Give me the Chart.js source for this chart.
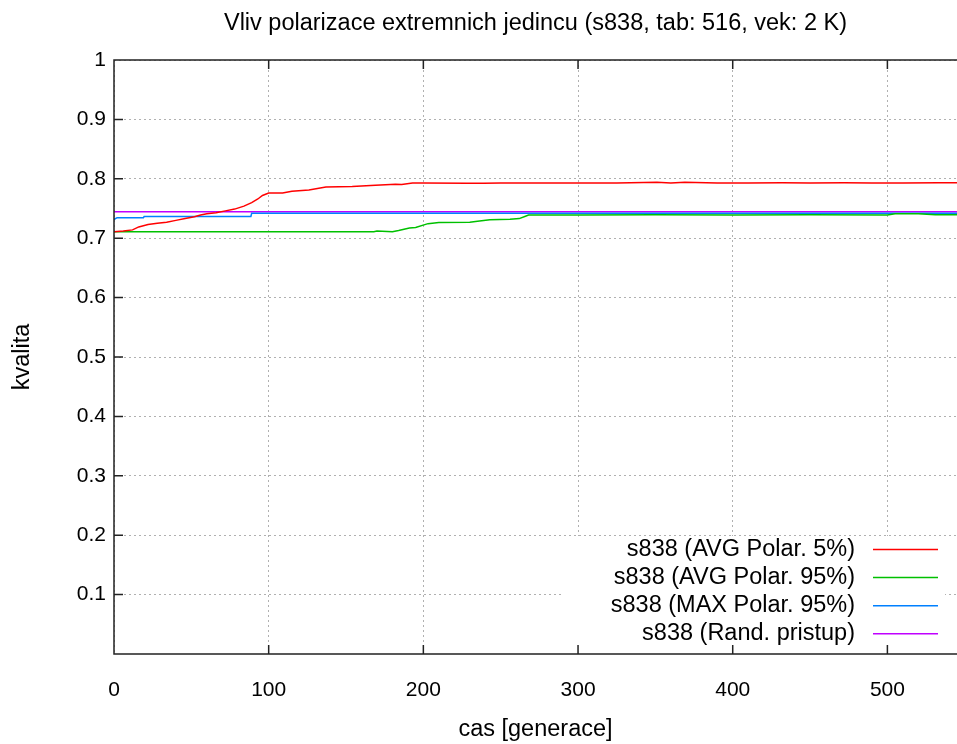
<!DOCTYPE html>
<html>
<head>
<meta charset="utf-8">
<script src="https://cdn.jsdelivr.net/npm/chart.js@4.4.1/dist/chart.umd.min.js"></script>
<style>
  html, body { margin: 0; padding: 0; background: #fff; overflow: hidden; }
  canvas { display: block; }
</style>
</head>
<body>
<canvas id="chart" width="957" height="744"></canvas>
<script>
// --- data
const chartTitle = 'Vliv polarizace extremnich jedincu (s838, tab: 516, vek: 2 K)';
const xTitle = 'cas [generace]';
const yTitle = 'kvalita';
const xTicks = [0, 100, 200, 300, 400, 500];
const yTicks = [0.1, 0.2, 0.3, 0.4, 0.5, 0.6, 0.7, 0.8, 0.9, 1];
const xMax = 545;

const seriesLabels = [
  's838 (AVG Polar. 5%)',
  's838 (AVG Polar. 95%)',
  's838 (MAX Polar. 95%)',
  's838 (Rand. pristup)'
];
const seriesColors = ['#ff0000', '#00c000', '#0080ff', '#c000ff'];

const redX = [0, 6, 12, 16, 22, 28, 34, 40, 46, 52, 56, 60, 66, 72, 78, 84, 89, 93, 96, 100, 109, 115, 126, 137, 154, 169, 182, 186, 193, 200, 228, 239, 250, 275, 300, 325, 351, 360, 369, 390, 410, 432, 450, 472, 490, 510, 533, 545];
const redY = [0.711, 0.712, 0.714, 0.719, 0.723, 0.725, 0.727, 0.730, 0.733, 0.736, 0.739, 0.741, 0.743, 0.746, 0.749, 0.754, 0.760, 0.766, 0.772, 0.776, 0.776, 0.779, 0.781, 0.786, 0.787, 0.789, 0.791, 0.7905, 0.793, 0.793, 0.7925, 0.7925, 0.793, 0.793, 0.793, 0.793, 0.794, 0.793, 0.794, 0.793, 0.793, 0.7935, 0.793, 0.7935, 0.793, 0.793, 0.7935, 0.7935];

const greenX = [0, 100, 168, 170, 180, 184, 191, 195, 203, 210, 230, 235, 243, 256, 262, 266, 268, 300, 350, 400, 450, 500, 505, 520, 531, 545];
const greenY = [0.711, 0.711, 0.711, 0.712, 0.711, 0.713, 0.717, 0.718, 0.7245, 0.7265, 0.727, 0.7285, 0.731, 0.732, 0.733, 0.737, 0.739, 0.739, 0.7395, 0.739, 0.7395, 0.739, 0.741, 0.741, 0.7395, 0.7395];

const blueX = [0, 2, 19, 19.5, 88.5, 89, 545];
const blueY = [0.7315, 0.7345, 0.7345, 0.7365, 0.7365, 0.742, 0.742];

const purpleX = [0, 545];
const purpleY = [0.7445, 0.7445];

const seriesX = [redX, greenX, blueX, purpleX];
const seriesY = [redY, greenY, blueY, purpleY];

const FONT = '"Liberation Sans", Arial, Helvetica, sans-serif';
Chart.defaults.font.family = FONT;
Chart.defaults.color = '#000';

// gnuplot style: frame with inward ticks + key in the lower right corner
const frameAndKey = {
  id: 'frameAndKey',
  afterDatasetsDraw(chart) {
    const { ctx, chartArea: a } = chart;
    ctx.save();
    ctx.fillStyle = '#fff';
    ctx.fillRect(a.right - 394, a.bottom - 118, 382, 117);
    ctx.font = '23.5px ' + FONT;
    ctx.textAlign = 'right';
    ctx.textBaseline = 'middle';
    chart.data.datasets.forEach((ds, i) => {
      const y = a.bottom - 104.5 + i * 28.1;
      ctx.fillStyle = '#000';
      ctx.fillText(ds.label, a.right - 102, y);
      ctx.strokeStyle = ds.borderColor;
      ctx.lineWidth = 1.5;
      ctx.beginPath();
      ctx.moveTo(a.right - 84, y);
      ctx.lineTo(a.right - 19, y);
      ctx.stroke();
    });
    ctx.restore();
  },
  afterDraw(chart) {
    const { ctx, chartArea: a, scales } = chart;
    ctx.save();
    ctx.strokeStyle = '#222';
    ctx.lineWidth = 1.5;
    ctx.beginPath();
    ctx.moveTo(a.right + 2, a.top);
    ctx.lineTo(a.left, a.top);
    ctx.lineTo(a.left, a.bottom);
    ctx.lineTo(a.right + 2, a.bottom);
    scales.x.ticks.forEach(t => {
      const px = scales.x.getPixelForValue(t.value);
      ctx.moveTo(px, a.bottom); ctx.lineTo(px, a.bottom - 9);
      ctx.moveTo(px, a.top); ctx.lineTo(px, a.top + 9);
    });
    scales.y.ticks.forEach(t => {
      const py = scales.y.getPixelForValue(t.value);
      ctx.moveTo(a.left, py); ctx.lineTo(a.left + 9, py);
    });
    ctx.stroke();
    ctx.restore();
  }
};

new Chart(document.getElementById('chart'), {
  type: 'line',
  data: {
    datasets: seriesLabels.map((label, i) => ({
      label: label,
      data: seriesX[i].map((x, j) => ({ x: x, y: seriesY[i][j] })),
      borderColor: seriesColors[i],
      borderWidth: 1.5,
      pointRadius: 0,
      tension: 0,
      fill: false
    }))
  },
  options: {
    responsive: false,
    animation: false,
    devicePixelRatio: 1,
    layout: { padding: 0 },
    plugins: {
      legend: { display: false },
      tooltip: { enabled: false },
      title: {
        display: true,
        text: chartTitle,
        fullSize: false,
        font: { size: 23.5, weight: 'normal' },
        padding: { top: 9, bottom: 22.8 }
      }
    },
    scales: {
      x: {
        type: 'linear',
        min: 0,
        max: xMax,
        afterBuildTicks: s => { s.ticks = xTicks.map(v => ({ value: v })); },
        afterFit: s => { s.height = 90; },
        ticks: { includeBounds: false, padding: 24, font: { size: 21 }, maxRotation: 0 },
        grid: { color: '#b0b0b0', lineWidth: 1, drawTicks: false },
        border: { display: false, dash: [2, 3] },
        title: { display: true, text: xTitle, font: { size: 23.5 }, padding: { top: 0, bottom: 0 } }
      },
      y: {
        min: 0,
        max: 1,
        afterBuildTicks: s => { s.ticks = yTicks.map(v => ({ value: v })); },
        afterFit: s => { s.width = 114; },
        ticks: { padding: 8, font: { size: 21 }, callback: v => String(Math.round(v * 10) / 10) },
        grid: { color: '#b0b0b0', lineWidth: 1, drawTicks: false },
        border: { display: false, dash: [2, 3] },
        title: { display: true, text: yTitle, font: { size: 23.5 }, padding: { top: 8, bottom: 0 } }
      }
    }
  },
  plugins: [frameAndKey]
});
</script>
</body>
</html>
